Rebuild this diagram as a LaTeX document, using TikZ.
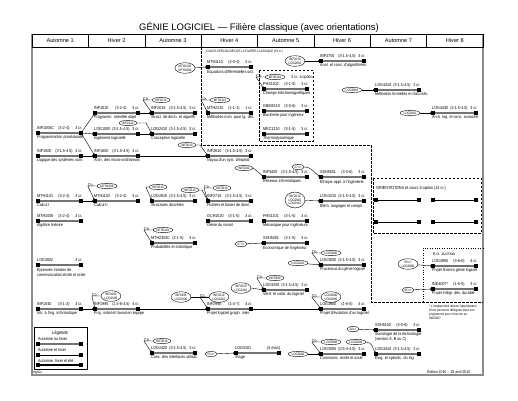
\documentclass[tikz,border=0pt]{standalone}
\usepackage{fontspec}
\setmainfont{Liberation Sans}
\newfontfamily\nf[FakeStretch=0.86]{Liberation Sans}
\usetikzlibrary{arrows.meta,shapes.geometric,calc}
\newcommand\crs[8]{%
 \coordinate (#1s) at (#2,#3);
 \coordinate (#1e) at (#2+43,#3);
 \draw[#8] (#1s) -- (#1e);
 \fill (#2-1.7,#3-1.7) rectangle (#2+1.7,#3+1.7);
 \fill (#2+41.3,#3-1.7) rectangle (#2+44.7,#3+1.7);
 \node[lbl] (#1c) at (#2-1,#3-3.2) {#4};
 \node[lbl,anchor=base] (#1h) at (#2+26,#3-3.2) {#5};
 \node[lbl,anchor=base east] (#1k) at (#2+44.5,#3-3.2) {#6};
 \node[ttl] (#1t) at (#2-1,#3+2.6) {#7};
}
\begin{document}
\begin{tikzpicture}[x=1pt,y=-1pt,
  lbl/.style={font=\nf\fontsize{4.3}{4.6}\selectfont,inner sep=0pt,anchor=base west},
  ttl/.style={font=\nf\fontsize{4.3}{4.6}\selectfont,inner sep=0pt,anchor=north west,align=left},
  pre/.style={draw,ellipse,line width=0.4pt,inner sep=0.7pt,font=\nf\fontsize{3.4}{3.7}\selectfont,align=center},
  arr/.style={line width=0.4pt,-{Latex[length=2.6pt,width=1.9pt]}},
  ln/.style={line width=0.4pt},
  sa/.style={line width=1.8pt,black!55},
  sb/.style={line width=1.0pt,black},
  hdr/.style={font=\fontsize{5.6}{6}\selectfont,inner sep=0pt}]
\useasboundingbox (0,0) rectangle (518,400);
\fill[white] (0,0) rectangle (518,400);
% title
\node[font=\fontsize{9.5}{11}\selectfont] (title) at (259,27) {GÉNIE LOGICIEL — Filière classique (avec orientations)};
% frame
\draw[black!45,line width=1.2pt] (32,34) -- (32,375) -- (483,375) -- (483,34);
\draw[line width=0.4pt] (32,34) rectangle (483,47);
\foreach \i/\t in {0/Automne 1,1/Hiver 2,2/Automne 3,3/Hiver 4,4/Automne 5,5/Hiver 6,6/Automne 7,7/Hiver 8}{
  \node[hdr] (h\i) at (32+56.375*\i+28.19,40.7) {\t};
  \ifnum\i>0 \draw[line width=0.4pt] (32+56.375*\i,34) -- (32+56.375*\i,47);\fi
}
% dashed regions
\draw[line width=0.4pt,dash pattern=on 2.5pt off 1.5pt] (201,47) -- (201,145) -- (371,145) -- (371,302) -- (483,302);
\node[font=\nf\fontsize{3.3}{3.6}\selectfont,anchor=base west,inner sep=0pt] (spec) at (206,52.5) {COURS SPÉCIALISÉS DE LA FILIÈRE CLASSIQUE (33 cr.)};
\draw[line width=0.4pt,dash pattern=on 2.5pt off 1.5pt] (259,70) rectangle (313,141);
\draw[line width=0.4pt,dash pattern=on 2.5pt off 1.5pt] (373,178) rectangle (481,233);
\node[font=\nf\fontsize{4.4}{4.8}\selectfont,anchor=base west,inner sep=0pt] (orient) at (376,189) {ORIENTATIONS et cours à option (12 cr.)};
\draw[dotted,line width=0.4pt] (483,248) -- (423,248) -- (423,302);
% courses col1
\crs{inf1005}{38}{133}{INF1005C}{(3-2-4)}{3 cr.}{Programmation procédurale}{sa}
\crs{inf1500}{38}{156}{INF1500}{(3-1.5-4.5)}{3 cr.}{Logique des systèmes num.}{sa}
\crs{mth1101}{38}{201}{MTH1101}{(3-2-4)}{3 cr.}{Calcul I}{sa}
\crs{mth1006}{38}{221}{MTH1006}{(3-2-4)}{3 cr.}{Algèbre linéaire}{sa}
\crs{log3002}{38}{265}{LOG3002}{}{3 cr.}{Épreuves initiales de\\communication écrite et orale}{sa}
\crs{inf1040}{38}{309}{INF1040}{(3-1-2)}{3 cr.}{Intr. à l'ing. informatique}{sa}
% col2
\crs{inf1010}{95}{113}{INF1010}{(3-2-4)}{3 cr.}{Programm. orientée objet}{sa}
\crs{log1000}{95}{134}{LOG1000}{(3-1.5-4.5)}{3 cr.}{Ingénierie logicielle}{sa}
\crs{inf1600}{95}{156}{INF1600}{(3-1.5-4.5)}{3 cr.}{Arch. des micro-ordinateurs}{sa}
\crs{mth1102}{95}{201}{MTH1102}{(3-2-4)}{3 cr.}{Calcul II}{sa}
\crs{inf1995}{95}{309}{INF1995}{(1.5-6-4.5)}{4 cr.}{Proj. initial et travail en équipe}{sa}
% col3
\crs{inf2010}{152}{113}{INF2010}{(3-1.5-4.5)}{3 cr.}{Struct. de donn. et algorith.}{sa}
\crs{log2410}{152}{134}{LOG2410}{(3-1.5-4.5)}{3 cr.}{Conception logicielle}{sa}
\crs{log2810}{152}{201}{LOG2810}{(3-1.5-4.5)}{3 cr.}{Structures discrètes}{sa}
\crs{mth2302}{152}{243}{MTH2302C}{(3-1-5)}{3 cr.}{Probabilités et statistique}{sa}
\crs{log2420}{152}{353}{LOG2420}{(3-1.5-4.5)}{3 cr.}{Conc. des interfaces utilisat.}{sa}
% col4
\crs{mth1110}{208}{67}{MTH1110}{(2-0-4)}{2 cr.}{Équations différentielles ord.}{sa}
\crs{mth2210}{208}{113}{MTH2210}{(1-1-1)}{1 cr.}{Méthodes num. pour lg. dét.}{sa}
\crs{inf2610}{208}{156}{INF2610}{(3-1.5-4.5)}{3 cr.}{Noyau d'un syst. d'exploit.}{sa}
\crs{inf2710}{208}{201}{INF2710}{(3-1.5-4.5)}{3 cr.}{Fichiers et bases de donn.}{sa}
\crs{gch1520}{208}{221}{GCH1520}{(3-1-5)}{3 cr.}{Génie du vivant}{sa}
\crs{inf2990}{208}{309}{INF2990}{(1-4-7)}{4 cr.}{Projet logiciel graph. inter.}{sa}
\crs{stage}{236}{353}{LOG3101}{}{(4 mois)}{Stage}{sa}
% col5
\crs{phs1102}{264}{89}{PHS1102}{(3-1-5)}{3 cr.}{Champs électromagnétiques}{sa}
\crs{gbm1510}{264}{111}{GBM1510}{(3-0-6)}{3 cr.}{Biochimie pour ingénieur}{sa}
\crs{mec1210}{264}{134}{MEC1210}{(3-1-5)}{3 cr.}{Thermodynamique}{sa}
\crs{inf3405}{264}{177}{INF3405}{(3-1.5-4.5)}{3 cr.}{Réseaux informatiques}{sa}
\crs{phs1101}{264}{221}{PHS1101}{(3-1-5)}{3 cr.}{Mécanique pour ingénieurs}{sa}
\crs{ssh5201}{264}{243}{SSH5201}{(3-1-5)}{3 cr.}{Économique de l'ingénieur}{sa}
\crs{log3430}{264}{290}{LOG3430}{(3-1.5-4.5)}{3 cr.}{Vérif. et valid. du logiciel}{sa}
% col6
\crs{inf4705}{321}{61}{INF4705}{(3-1.5-4.5)}{3 cr.}{Anal. et conc. d'algorithmes}{sa}
\crs{ssh5501}{321}{177}{SSH5501}{(3-0-6)}{3 cr.}{Éthique appl. à l'ingénierie}{sa}
\crs{log3210}{321}{201}{LOG3210}{(3-1.5-4.5)}{3 cr.}{Élém. langages et compil.}{sa}
\crs{log3000}{321}{265}{LOG3000}{(3-1.5-4.5)}{3 cr.}{Processus du génie logiciel}{sa}
\crs{log3900}{321}{309}{LOG3900}{(1-6-5)}{4 cr.}{Projet d'évolution d'un logiciel}{sa}
\crs{log3005}{321}{354}{LOG3005}{(0.5-4-4.5)}{3 cr.}{Communic. écrite et orale}{sa}
% col7
\crs{log4410}{376}{90}{LOG4410}{(3-1.5-4.5)}{3 cr.}{Méthodes formelles en fiab./séc.}{sa}
\crs{ssh5100}{376}{330}{SSH5100}{(3-0-6)}{3 cr.}{Sociologie de la technologie\\(version A, B ou C)}{sa}
\crs{log3410}{376}{354}{LOG3410}{(3-1.5-4.5)}{3 cr.}{Exig. et spécific. du log.}{sa}
% col8
\crs{log4430}{433}{113}{LOG4430}{(3-1.5-4.5)}{3 cr.}{Arch. log. et conc. avancée}{sa}
\node[lbl] (choix) at (433,255) {6 cr. au choix};
\crs{log4900}{433}{266}{LOG4900}{(3-6-6)}{4 cr.}{Projet final en génie logiciel}{sa}
\crs{ind4007}{433}{289}{IND4007*}{(1-6-5)}{3 cr.}{Projet intégr. dév. durable}{sa}
% orientation bars
\foreach \yy in {200,222}{
  \foreach \xx in {376,433}{
    \draw[sb] (\xx,\yy) -- (\xx+43,\yy);
    \fill (\xx-1.7,\yy-1.7) rectangle (\xx+1.7,\yy+1.7);
    \fill (\xx+41.3,\yy-1.7) rectangle (\xx+44.7,\yy+1.7);
  }
}
% simple arrows
\draw[arr] (inf1005e) -- (inf1010s);
\draw[arr] (inf1005e) -- (log1000s);
\draw[arr] (inf1005e) -- (inf1600s);
\draw[arr] (inf1500e) -- (inf1600s);
\draw[arr] (mth1101e) -- (mth1102s);
\draw[arr] (inf1040e) -- (inf1995s);
\draw[arr] (inf1010e) -- (inf2010s);
\draw[arr] (log1000e) -- (log2410s);
\draw[arr] (inf1600e) -- (inf2610s);
\draw[arr] (inf1995e) -- (inf2990s);
\draw[arr] (inf2990e) -- (log3900s);
% prerequisite bubbles
\node[pre] (p1) at (185,68) {MTH1102\\MTH1006}; \draw[arr] (p1) -- (mth1110s);
\node[pre] (p4) at (128,123) {INF1010}; \draw[arr] (p4.east) -- (146,123) -- (log2410s);
\node[pre] (p14) at (295,61) {INF2010\\LOG2810}; \draw[arr] (p14) -- (inf4705s);
\node[pre] (p15) at (352,90) {LOG2810}; \draw[arr] (p15) -- (log4410s);
\node[pre] (p16) at (410,113) {LOG2410}; \draw[arr] (p16) -- (log4430s);
\node[pre] (p5) at (187,145) {INF2010}; \draw[arr] (p5.east) -- (200,145) -- (inf2610s);
\node[pre] (p6) at (244,168) {INF1600}; \draw[arr] (p6.east) -- (inf3405s);
\node[pre] (p8) at (158,187) {INF2010}; \draw[arr] (p8.west) -- ++(-3,0) -- (log2810s);
\node[pre] (p9) at (190,190) {INF2010}; \draw[arr] (p9.east) -- (202,190) -- (inf2710s);
\node[pre] (p17) at (298,167) {27 cr.}; \draw[arr] (p17.east) to[out=0,in=150] (ssh5501s);
\node[pre] (p18) at (295,200) {INF2010\\LOG2810\\LOG2410}; \draw[arr] (p18) -- (log3210s);
\node[pre] (p12) at (241,244) {27 cr.}; \draw[arr] (p12) -- (ssh5201s);
\node[pre] (p20) at (298,263) {LOG2410}; \draw[arr] (p20) -- (log3000s);
\node[pre] (p25) at (241,288) {INF2010\\LOG2410}; \draw[arr] (p25.east) -- (log3430s);
\node[pre] (p28) at (211,354) {55 cr.}; \draw[arr] (p28) -- (stages);
\node[pre] (p31) at (353,329) {30 cr.}; \draw[arr] (p31) -- (ssh5100s);
\node[pre] (p32) at (408,264) {95 cr.\\LOG3900}; \draw[arr] (p32) -- (log4900s);
\node[pre] (p33) at (408,290) {95 cr.}; \draw[arr] (p33) -- (ind4007s);
\node[pre] (p29) at (298,354) {LOG3000}; \draw[arr] (p29) -- (log3005s);
\node[pre] (p30) at (356,342) {LOG3000}; \draw[arr] (p30.east) to[out=0,in=120] (log3410s);
\node[pre] (p23) at (181,297) {INF1995\\LOG1000};
% co-requisites
\newcommand\coreq[5]{% name, x, y, text, target
  \node[pre] (#1) at (#2,#3) {#4};
  \node[lbl] (#1co) at (#1.west) [xshift=-9pt,yshift=-0.6pt] {Co.};
  \draw[arr] (#1.west) -- ++(-9,0) -- (#5);
}
\coreq{c2}{161}{100}{INF1010}{inf2010s}
\coreq{c3}{220}{100}{MTH1110}{mth2210s}
\coreq{c7}{107}{186}{MTH1006}{mth1102s}
\coreq{c10}{222}{188}{INF2010}{inf2710s}
\coreq{c11}{163}{230}{MTH1101}{mth2302s}
\coreq{c13}{275}{77}{MTH1110}{phs1102s}
\coreq{c19}{331}{253}{LOG2990}{log3000s}
\coreq{c21}{275}{278}{INF2990}{log3430s}
\coreq{c22}{331}{297}{LOG3000\\LOG2990}{log3900s}
\coreq{c24}{219}{297}{INF2010\\LOG2410}{inf2990s}
\coreq{c26}{111}{296}{INF1600\\LOG1000}{inf1995s}
\coreq{c27}{162}{341}{INF2010}{log2420s}
\coreq{c29}{331}{342}{LOG3900}{log3005s}
\draw[ln] (p23) -- (c24);
\node[lbl] (opt) at (291,78) {3 cr. à option};
% footnote
\node[font=\nf\fontsize{3.4}{3.9}\selectfont,anchor=north west,align=left,inner sep=0pt] (fn) at (429,305) {* L'étudiant doit obtenir l'approbation\\d'une personne déléguée dans son\\programme pour s'inscrire au\\IND4007.};
\node[font=\nf\fontsize{4}{4.5}\selectfont,anchor=base west,inner sep=0pt] (ed) at (427,373) {Édition 2010 -- 28 avril 2010};
\node[font=\nf\fontsize{3.4}{4}\selectfont,anchor=base west,inner sep=0pt] (fid) at (33,373) {log10a};
% legend
\draw[line width=0.4pt] (34,327) rectangle (87,369);
\node[font=\nf\fontsize{4.8}{5}\selectfont,inner sep=0pt] (leg) at (60,333) {Légende};
\node[lbl] (la) at (38,340) {Automne ou hiver};
\draw[sa] (38,344) -- (81,344); \fill (36.3,342.3) rectangle (39.7,345.7); \fill (79.3,342.3) rectangle (82.7,345.7);
\node[lbl] (lb) at (38,351) {Automne et hiver};
\draw[sb] (38,355) -- (81,355); \fill (36.3,353.3) rectangle (39.7,356.7); \fill (79.3,353.3) rectangle (82.7,356.7);
\node[lbl] (lc) at (38,362) {Automne, hiver et été};
\draw[line width=1.5pt] (38,365) -- (81,365); \fill (36.3,363.3) rectangle (39.7,366.7); \fill (79.3,363.3) rectangle (82.7,366.7);
\end{tikzpicture}
\end{document}
